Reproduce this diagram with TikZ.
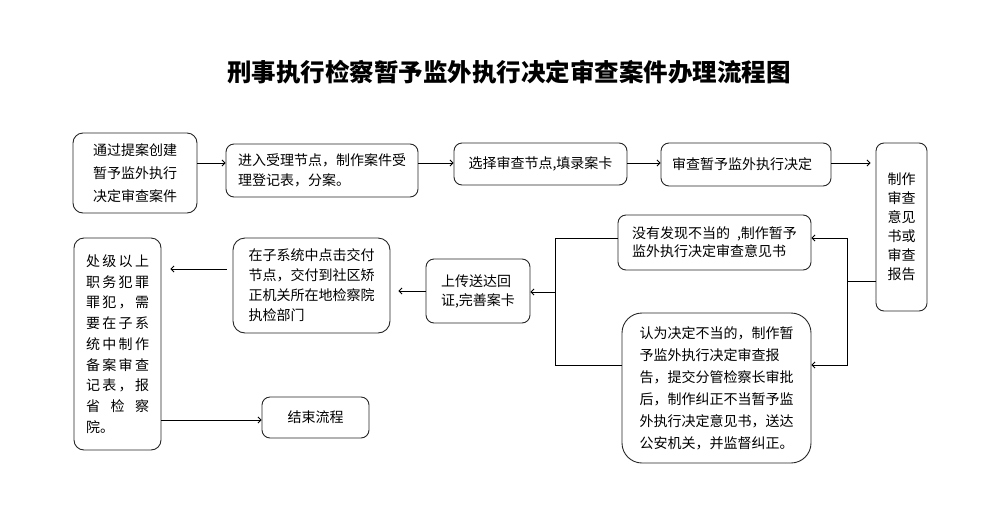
\documentclass[tikz,border=0pt]{standalone}
\usepackage{fontspec}
\setmainfont{Noto Sans CJK SC}
\usetikzlibrary{arrows.meta}
\newcommand\spr[4]{\hbox to 63pt{#1\hfill #2\hfill #3\hfill #4}}
\newcommand\sprt[3]{\hbox to 63pt{#1\hfill #2\hfill #3}}
\begin{document}
\begin{tikzpicture}[x=1pt,y=-1pt,
  box/.style={draw=black!85, line width=0.9pt, rounded corners=8pt, align=left, inner sep=0pt},
  arr/.style={-{Straight Barb[length=3pt,width=6pt]}, line width=0.8pt},
  ln/.style={line width=0.8pt}]
\useasboundingbox (0,0) rectangle (988,528);
\node[font=\bfseries\fontsize{24.5}{26}\selectfont] (title) at (509,72) {刑事执行检察暂予监外执行决定审查案件办理流程图};
\node[box, minimum width=124pt, minimum height=80pt, rounded corners=10pt, font=\fontsize{14}{23}\selectfont] (b1) at (135,173) {通过提案创建\\暂予监外执行\\决定审查案件};
\node[box, minimum width=192pt, minimum height=53pt, font=\fontsize{14}{20}\selectfont] (b2) at (322,170.5) {进入受理节点，制作案件受\\理登记表，分案。};
\node[box, minimum width=173pt, minimum height=42pt, font=\fontsize{14}{20}\selectfont] (b3) at (540.5,164) {选择审查节点,填录案卡};
\node[box, minimum width=170pt, minimum height=43pt, font=\fontsize{14}{20}\selectfont] (b4) at (746,164.5) {\hspace*{-8pt}审查暂予监外执行决定};
\node[box, minimum width=51pt, minimum height=168pt, font=\fontsize{14}{19}\selectfont] (b5) at (901.5,227) {制作\\审查\\意见\\书或\\审查\\报告};
\node[box, minimum width=193pt, minimum height=55pt, font=\fontsize{14}{18}\selectfont] (b6) at (714.5,242.5) {没有发现不当的\hspace{7pt},制作暂予\\监外执行决定审查意见书};
\node[box, minimum width=189pt, minimum height=150pt, rounded corners=20pt, font=\fontsize{14}{22}\selectfont] (b7) at (716.5,388) {认为决定不当的，制作暂\\予监外执行决定审查报\\告，提交分管检察长审批\\后，制作纠正不当暂予监\\外执行决定意见书，送达\\公安机关，并监督纠正。};
\node[box, minimum width=104pt, minimum height=64pt, font=\fontsize{14}{19}\selectfont] (b8) at (478,291) {上传送达回\\证,完善案卡};
\node[box, minimum width=157pt, minimum height=95pt, rounded corners=12pt, font=\fontsize{14}{20}\selectfont] (b9) at (311.5,285.5) {在子系统中点击交付\\节点，交付到社区矫\\正机关所在地检察院\\执检部门};
\node[box, minimum width=87pt, minimum height=212pt, rounded corners=10pt, font=\fontsize{14}{20.7}\selectfont] (b10) at (117.5,344) {\spr{处}{级}{以}{上}\\\spr{职}{务}{犯}{罪}\\\spr{罪}{犯}{，}{需}\\\spr{要}{在}{子}{系}\\\spr{统}{中}{制}{作}\\\spr{备}{案}{审}{查}\\\spr{记}{表}{，}{报}\\\sprt{省}{检}{察}\\院。};
\node[box, minimum width=107pt, minimum height=41pt, font=\fontsize{14}{20}\selectfont] (b11) at (315.5,417.5) {结束流程};
\coordinate (ya) at (0,163);
\draw[arr] (b1.east |- ya) -- (b2.west |- ya);
\draw[arr] (b2.east |- ya) -- (b3.west |- ya);
\draw[arr] (b3.east |- ya) -- (b4.west |- ya);
\draw[arr, shorten >=5pt] (b4.east |- ya) -- (b5.west |- ya);
\coordinate (j1) at (847,281);
\coordinate (j1t) at (847,238);
\coordinate (j1b) at (847,365);
\draw[ln] (b5.west |- j1) -- (j1);
\draw[arr] (j1) -- (j1t) -- (b6.east |- j1t);
\draw[arr] (j1) -- (j1b) -- (b7.east |- j1b);
\coordinate (j2t) at (555,238);
\coordinate (j2b) at (555,365);
\coordinate (j2m) at (555,292);
\draw[ln] (b6.west |- j2t) -- (j2t) -- (j2b) -- (b7.west |- j2b);
\draw[arr] (j2m) -- (b8.east |- j2m);
\coordinate (y8) at (0,291);
\draw[arr, shorten >=8pt] (b8.west |- y8) -- (b9.east |- y8);
\coordinate (y9) at (0,269);
\draw[arr, shorten <=6pt, shorten >=9pt] (b9.west |- y9) -- (b10.east |- y9);
\coordinate (y10) at (0,420);
\draw[arr] (b10.east |- y10) -- (b11.west |- y10);
\end{tikzpicture}
\end{document}
